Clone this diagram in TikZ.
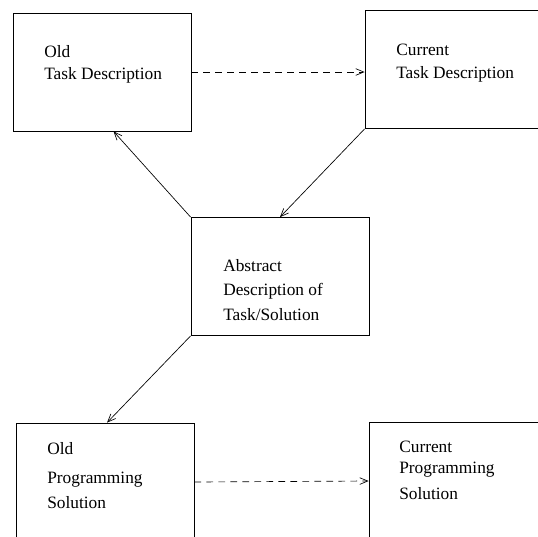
\documentclass[tikz,border=0pt]{standalone}
\usepackage{fontspec}
\setmainfont{Liberation Serif}
\usetikzlibrary{arrows.meta}
\begin{document}
\begin{tikzpicture}[x=0.75pt,y=-0.75pt,
    box/.style={draw,line width=0.6pt,minimum width=133.5pt,minimum height=88.5pt,inner sep=0pt},
    txt/.style={anchor=base west,inner sep=0pt,font=\fontsize{13}{15}\selectfont},
    link/.style={line width=0.5pt,-{Straight Barb[length=6pt,width=5pt]}},
    copy/.style={link,dash pattern=on 5pt off 4pt}]%
     \useasboundingbox (0,0) rectangle (538,536);
     \clip (0,0) rectangle (538,536);

     \node[box] at (102,72) (otask) {};
     \node[box] at (454,69.5) (ctask) {};
     \node[box] at (280,276.5) (abs) {};
     \node[box] at (105,482) (oprog) {};
     \node[box] at (458,481) (cprog) {};

     \node[txt] at (44,57) (otask1) {Old};
     \node[txt] at (44,79) (otask2) {Task Description};
     \node[txt] at (396,55) (ctask1) {Current};
     \node[txt] at (396,78) (ctask2) {Task Description};
     \node[txt] at (223,271) (abs1) {Abstract};
     \node[txt] at (223,295) (abs2) {Description of};
     \node[txt] at (223,320) (abs3) {Task/Solution};
     \node[txt] at (47,454) (oprog1) {Old};
     \node[txt] at (47,483) (oprog2) {Programming};
     \node[txt] at (47,508) (oprog3) {Solution};
     \node[txt] at (399,452) (cprog1) {Current};
     \node[txt] at (399,473) (cprog2) {Programming};
     \node[txt] at (399,499) (cprog3) {Solution};

      \draw [copy] (otask.east) -- (otask.east -| ctask.west);
      \draw [copy] (oprog.east) -- (cprog.west);

      \draw [link] (abs.north west) -- (otask.-79);
      \draw [link] (ctask.south west) -- (abs.north);
      \draw [link] (abs.south west) -- (oprog.88);
\end{tikzpicture}
\end{document}
